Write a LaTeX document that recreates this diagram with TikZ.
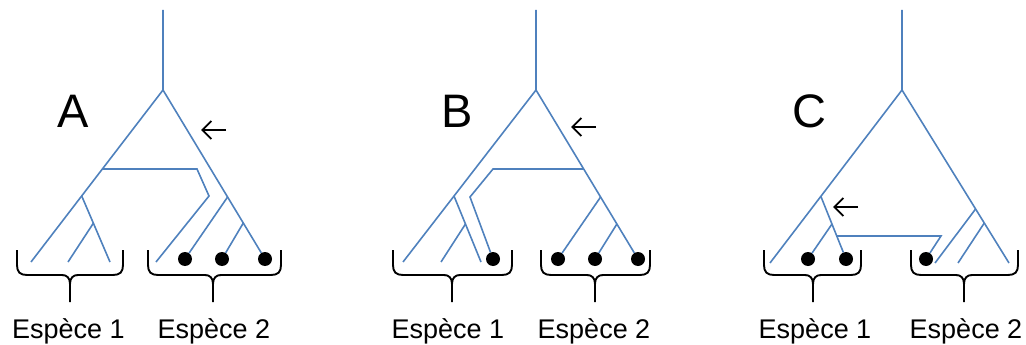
\documentclass[tikz,border=0pt]{standalone}
\usepackage{fontspec}
\setmainfont{Liberation Sans}
\usetikzlibrary{arrows.meta}
\definecolor{branchcol}{RGB}{79,129,189}

% accolade sous les feuilles : x gauche, x milieu, x droite
\newcommand{\accolade}[3]{%
  \draw[accol] (#1,250) -- (#1,265) .. controls (#1,272) and (#1+3,275) .. (#1+10,275)
    -- (#2-8,275) .. controls (#2-3,275) and (#2,278) .. (#2,284) -- (#2,302);
  \draw[accol] (#3,250) -- (#3,265) .. controls (#3,272) and (#3-3,275) .. (#3-10,275)
    -- (#2+8,275) .. controls (#2+3,275) and (#2,278) .. (#2,284);
}

\begin{document}
\begin{tikzpicture}[
  x=1pt, y=-1pt,
  branch/.style={draw=branchcol, line width=1.6pt},
  pastille/.style={circle, fill=black, inner sep=0pt, minimum size=14pt},
  accol/.style={draw=black, line width=1.9pt},
  arr/.style={-{Straight Barb[length=9pt,width=18pt]}, line width=1.9pt, black},
  lettre/.style={font=\fontsize{47}{50}\selectfont, anchor=base},
  espece/.style={font=\fontsize{27}{30}\selectfont, anchor=base},
]
  \useasboundingbox (0,0) rectangle (1026,345);

  % Arbre A
  \coordinate (aTop) at (163,10);
  \coordinate (aRoot) at (163,90);
  \coordinate (aL1) at (31,262);
  \coordinate (aN1) at (81.7,196);
  \coordinate (aN2) at (93.5,223);
  \coordinate (aL2) at (68,262);
  \coordinate (aL3) at (110,262);
  \coordinate (aH1) at (102.4,169);
  \coordinate (aH2) at (197,169);
  \coordinate (aH3) at (209,196);
  \coordinate (aL4) at (156,262);
  \coordinate (aM1) at (227.6,197);
  \coordinate (aM2) at (243.3,223);
  \node[pastille] (aD1) at (185,259) {};
  \node[pastille] (aD2) at (222,259) {};
  \node[pastille] (aD3) at (265,259) {};

  \draw[branch] (aTop) -- (aRoot) -- (aL1);
  \draw[branch] (aRoot) -- (aD3);
  \draw[branch] (aN1) -- (aL3);
  \draw[branch] (aN2) -- (aL2);
  \draw[branch] (aH1) -- (aH2) -- (aH3) -- (aL4);
  \draw[branch] (aM1) -- (aD1);
  \draw[branch] (aM2) -- (aD2);

  \coordinate (aFlQ) at (226,130);
  \coordinate (aFlP) at (201,130);
  \draw[arr] (aFlQ) -- (aFlP);
  \node[lettre] (aLab) at (73,127) {A};

  \accolade{17}{70}{123}
  \accolade{148}{213}{281}
  \node[espece] (aEsp1) at (68.5,338) {Espèce 1};
  \node[espece] (aEsp2) at (214,338) {Espèce 2};

  % Arbre B
  \coordinate (bTop) at (536,10);
  \coordinate (bRoot) at (536,90);
  \coordinate (bL1) at (403,262);
  \coordinate (bN1) at (454,196);
  \coordinate (bN2) at (465.5,224);
  \coordinate (bL2) at (441,262);
  \coordinate (bL3) at (481,262);
  \coordinate (bH1) at (583.7,169);
  \coordinate (bH2) at (493,169);
  \coordinate (bH3) at (470,197);
  \coordinate (bM1) at (600.6,197);
  \coordinate (bM2) at (616.9,224);
  \node[pastille] (bD0) at (493,259) {};
  \node[pastille] (bD1) at (558,259) {};
  \node[pastille] (bD2) at (595,259) {};
  \node[pastille] (bD3) at (638,259) {};

  \draw[branch] (bTop) -- (bRoot) -- (bL1);
  \draw[branch] (bRoot) -- (bD3);
  \draw[branch] (bN1) -- (bL3);
  \draw[branch] (bN2) -- (bL2);
  \draw[branch] (bH1) -- (bH2) -- (bH3) -- (bD0);
  \draw[branch] (bM1) -- (bD1);
  \draw[branch] (bM2) -- (bD2);

  \coordinate (bFlQ) at (596,127);
  \coordinate (bFlP) at (571,127);
  \draw[arr] (bFlQ) -- (bFlP);
  \node[lettre] (bLab) at (457,127) {B};

  \accolade{393}{452}{512}
  \accolade{541}{595}{650}
  \node[espece] (bEsp1) at (448,338) {Espèce 1};
  \node[espece] (bEsp2) at (594,338) {Espèce 2};

  % Arbre C
  \coordinate (cTop) at (902,10);
  \coordinate (cRoot) at (902,90);
  \coordinate (cL1) at (770,263);
  \coordinate (cN1) at (820.7,196);
  \coordinate (cN2) at (832,224);
  \coordinate (cH1) at (836.8,236);
  \coordinate (cH2) at (941,236);
  \coordinate (cM1) at (975.6,209);
  \coordinate (cM2) at (984.3,223);
  \coordinate (cL2) at (935,263);
  \coordinate (cL3) at (958,263);
  \coordinate (cL4) at (1009,263);
  \node[pastille] (cD1) at (808,259) {};
  \node[pastille] (cD2) at (846,259) {};
  \node[pastille] (cD3) at (926,259) {};

  \draw[branch] (cTop) -- (cRoot) -- (cL1);
  \draw[branch] (cRoot) -- (cL4);
  \draw[branch] (cN1) -- (cD2);
  \draw[branch] (cN2) -- (cD1);
  \draw[branch] (cH1) -- (cH2) -- (cD3);
  \draw[branch] (cM1) -- (cL2);
  \draw[branch] (cM2) -- (cL3);

  \coordinate (cFlQ) at (858,207);
  \coordinate (cFlP) at (833,207);
  \draw[arr] (cFlQ) -- (cFlP);
  \node[lettre] (cLab) at (809,127) {C};

  \accolade{764}{813}{861}
  \accolade{911}{964}{1018}
  \node[espece] (cEsp1) at (815,338) {Espèce 1};
  \node[espece] (cEsp2) at (966,338) {Espèce 2};
\end{tikzpicture}
\end{document}
